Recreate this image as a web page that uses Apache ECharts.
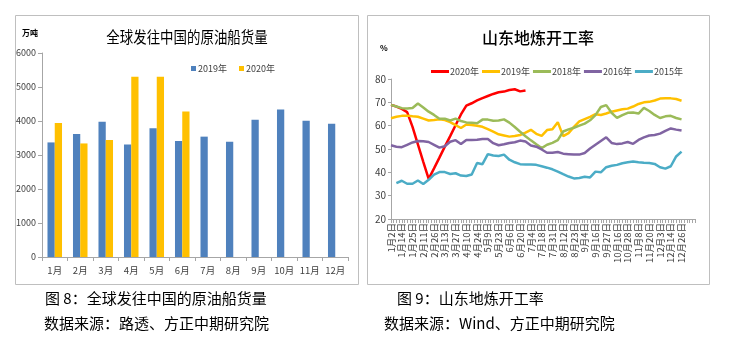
<!DOCTYPE html>
<html>
<head>
<meta charset="utf-8">
<script src="https://cdn.jsdelivr.net/npm/echarts@6/dist/echarts.min.js"></script>
<style>
  html, body { margin: 0; padding: 0; background: #fff; width: 729px; height: 338px; overflow: hidden; }
  #left  { position: absolute; left: 0;     top: 0; width: 364px; height: 338px; }
  #right { position: absolute; left: 364px; top: 0; width: 365px; height: 338px; }
</style>
</head>
<body>
<div id="left"></div>
<div id="right"></div>
<script>
// ---- Figure 8: crude cargoes shipped to China (10k tonnes) ----
const months = ['1月', '2月', '3月', '4月', '5月', '6月', '7月', '8月', '9月', '10月', '11月', '12月'];
const cargo2019 = [3370, 3620, 3980, 3310, 3790, 3410, 3540, 3390, 4040, 4340, 4010, 3920];
const cargo2020 = [3940, 3340, 3440, 5300, 5300, 4280];

// ---- Figure 9: Shandong independent refinery run rate (%) ----
const dateLabels = ['1月2日', '1月14日', '1月25日', '2月11日', '2月26日', '3月13日', '3月27日',
  '4月10日', '4月24日', '5月9日', '5月23日', '6月6日', '6月20日', '7月4日', '7月18日', '7月31日',
  '8月12日', '8月23日', '9月4日', '9月16日', '9月27日', '10月16日', '10月28日', '11月8日',
  '11月20日', '12月3日', '12月14日', '12月26日'];

const rate2020 = [68.9, 68.2, 67.2, 65.8, 59.5, 52.0, 44.5, 37.2, 41.7, 46.3, 51.0, 55.5, 60.2,
  64.8, 68.6, 69.6, 70.8, 71.8, 72.7, 73.6, 74.3, 74.6, 75.3, 75.6, 74.7, 75.1];
const rate2019 = [63.2, 63.8, 64.2, 64.3, 64.0, 63.8, 63.0, 62.2, 62.4, 62.7, 62.4, 61.5, 60.2,
  59.0, 60.5, 60.3, 60.0, 59.5, 58.5, 57.4, 56.3, 55.8, 55.3, 55.6, 56.0, 57.0, 58.2, 56.5, 55.6,
  58.1, 58.5, 61.5, 55.5, 56.8, 59.5, 61.8, 62.8, 63.8, 64.9, 64.6, 65.2, 66.0, 66.5, 67.0, 67.3,
  68.2, 69.3, 70.0, 70.2, 70.8, 71.6, 71.7, 71.7, 71.4, 70.7];
const rate2018 = [68.9, 68.2, 67.5, 67.4, 67.6, 69.5, 67.8, 66.0, 64.6, 63.0, 63.0, 62.2, 63.0,
  62.0, 61.4, 61.3, 61.0, 62.6, 62.6, 62.1, 62.2, 62.7, 61.3, 59.4, 57.4, 55.5, 53.7, 52.0, 50.4,
  51.8, 52.6, 53.8, 57.5, 58.4, 59.1, 60.0, 60.9, 62.3, 64.5, 68.0, 68.8, 65.5, 63.3, 64.5, 65.5,
  65.6, 65.2, 67.6, 66.3, 64.6, 63.3, 64.0, 64.2, 63.3, 62.7];
const rate2016 = [51.6, 51.0, 50.8, 51.8, 52.8, 53.4, 53.3, 53.0, 51.8, 50.6, 51.2, 53.1, 53.8,
  52.1, 53.9, 53.9, 54.0, 54.3, 54.3, 52.5, 51.6, 52.0, 52.6, 52.9, 53.6, 53.2, 51.5, 51.0, 49.8,
  48.4, 48.4, 48.7, 48.0, 47.8, 47.6, 47.6, 48.3, 50.2, 51.8, 53.4, 55.0, 52.6, 52.1, 52.4, 53.0,
  52.2, 53.9, 55.0, 55.8, 56.0, 56.6, 57.8, 58.8, 58.3, 57.9];
const rate2015 = [null, 35.4, 36.4, 35.1, 35.1, 36.5, 35.0, 36.8, 39.0, 40.1, 40.1, 39.3, 39.6,
  38.6, 38.4, 39.1, 44.0, 43.5, 47.8, 47.2, 47.0, 47.6, 45.4, 44.3, 43.5, 43.4, 43.4, 43.2, 42.6,
  42.0, 41.3, 40.3, 39.2, 38.2, 37.4, 37.6, 38.1, 37.8, 40.3, 40.0, 42.2, 42.8, 43.2, 43.9, 44.3,
  44.6, 44.3, 44.1, 44.0, 43.6, 42.2, 41.6, 42.6, 46.8, 48.9];

const FONT = '"Liberation Sans Narrow", "Noto Sans CJK SC", sans-serif';
const CJK = '"Noto Sans CJK SC", sans-serif';
const AXIS_GREY = '#a6a6a6';
const LABEL_GREY = '#404040';

// Weekly readings sit on every second slot of a finer tick grid;
// a date label is printed on every fourth slot.
const SLOTS_PER_POINT = 2;
const SLOTS_PER_LABEL = 4;
const slotCount = (dateLabels.length - 1) * SLOTS_PER_LABEL + 6;
const slots = Array.from({ length: slotCount }, (_, i) => 's' + i);
const toPoints = arr => arr.map((v, k) => [k * SLOTS_PER_POINT, v]).filter(p => p[1] !== null);

function frame(x, y, w, h) {
  return { type: 'rect', shape: { x, y, width: w, height: h },
    style: { fill: 'none', stroke: '#bfbfbf', lineWidth: 1 }, silent: true };
}
function caption(x, y, text) {
  return { type: 'text', x, y, silent: true,
    style: { text, font: '15px ' + CJK, fill: '#000', textVerticalAlign: 'middle' } };
}

// ---------------- left chart ----------------
const left = echarts.init(document.getElementById('left'), null, { renderer: 'canvas' });
left.setOption({
  animation: false,
  graphic: [
    frame(15.5, 15.5, 343, 269),
    { type: 'text', x: 187, y: 37, scaleX: 0.84, silent: true,
      style: { text: '全球发往中国的原油船货量', font: '16px ' + CJK, fill: '#000',
        textAlign: 'center', textVerticalAlign: 'middle' } },
    { type: 'text', x: 22, y: 33, silent: true,
      style: { text: '万吨', font: 'bold 8px ' + CJK, fill: '#000', textVerticalAlign: 'middle' } },
    caption(45, 298, '图 8：全球发往中国的原油船货量'),
    caption(44, 323, '数据来源：路透、方正中期研究院')
  ],
  legend: {
    left: 186, top: 59, icon: 'rect', itemWidth: 5, itemHeight: 5, itemGap: 12,
    textStyle: { fontFamily: FONT, fontSize: 9, color: LABEL_GREY, padding: [0, 0, 0, -3] },
    data: ['2019年', '2020年']
  },
  grid: { left: 42, top: 53, width: 306, height: 204 },
  xAxis: {
    type: 'category', data: months,
    axisLine: { lineStyle: { color: AXIS_GREY } },
    axisTick: { show: true, length: 4, lineStyle: { color: AXIS_GREY } },
    axisLabel: { interval: 0, fontFamily: FONT, fontSize: 9.5, color: LABEL_GREY, margin: 9 }
  },
  yAxis: {
    type: 'value', min: 0, max: 6000, interval: 1000,
    axisLine: { show: true, lineStyle: { color: AXIS_GREY } },
    axisTick: { show: true, length: 4, lineStyle: { color: AXIS_GREY } },
    splitLine: { show: false },
    axisLabel: { fontFamily: FONT, fontSize: 9, color: LABEL_GREY, margin: 6,
      formatter: v => String(v) }
  },
  series: [
    { name: '2019年', type: 'bar', data: cargo2019, barGap: '0%', barCategoryGap: '43%',
      itemStyle: { color: '#4f81bd' } },
    { name: '2020年', type: 'bar', data: cargo2020, itemStyle: { color: '#ffc000' } }
  ]
});

// ---------------- right chart ----------------
const lineColors = ['#ff0000', '#ffc000', '#9bbb59', '#8064a2', '#4bacc6'];
const lineNames = ['2020年', '2019年', '2018年', '2016年', '2015年'];
const lineData = [rate2020, rate2019, rate2018, rate2016, rate2015];

const right = echarts.init(document.getElementById('right'), null, { renderer: 'canvas' });
right.setOption({
  animation: false,
  graphic: [
    frame(3.5, 15.5, 342, 269),
    { type: 'text', x: 174, y: 38, silent: true,
      style: { text: '山东地炼开工率', font: '500 16px ' + CJK, fill: '#000',
        textAlign: 'center', textVerticalAlign: 'middle' } },
    { type: 'text', x: 16, y: 48, silent: true,
      style: { text: '%', font: 'bold 8px ' + FONT, fill: '#000', textVerticalAlign: 'middle' } },
    caption(33, 298, '图 9：山东地炼开工率'),
    caption(20, 323, '数据来源：Wind、方正中期研究院')
  ],
  legend: {
    left: 62, top: 62, icon: 'rect', itemWidth: 18, itemHeight: 3, itemGap: 3,
    textStyle: { fontFamily: FONT, fontSize: 9, color: LABEL_GREY, padding: [0, 0, 0, -4] },
    data: lineNames
  },
  grid: { left: 27, top: 79, width: 304, height: 140 },
  xAxis: {
    type: 'category', data: slots, boundaryGap: false,
    axisLine: { lineStyle: { color: AXIS_GREY } },
    axisTick: { show: true, interval: 0, length: 4, lineStyle: { color: AXIS_GREY } },
    axisLabel: {
      interval: 0, rotate: 90, fontFamily: CJK, fontSize: 9.5, color: LABEL_GREY, margin: 4,
      formatter: (val, idx) => (idx % SLOTS_PER_LABEL === 0 && dateLabels[idx / SLOTS_PER_LABEL]) || ''
    }
  },
  yAxis: {
    type: 'value', min: 20, max: 80, interval: 10,
    axisLine: { show: true, lineStyle: { color: AXIS_GREY } },
    axisTick: { show: true, length: 3, lineStyle: { color: AXIS_GREY } },
    splitLine: { show: false },
    axisLabel: { fontFamily: FONT, fontSize: 10, color: LABEL_GREY, margin: 5 }
  },
  series: lineNames.map((name, i) => ({
    name, type: 'line', data: toPoints(lineData[i]), showSymbol: false, connectNulls: true,
    itemStyle: { color: lineColors[i] },
    lineStyle: { color: lineColors[i], width: 2.5 }
  }))
});
</script>
</body>
</html>
